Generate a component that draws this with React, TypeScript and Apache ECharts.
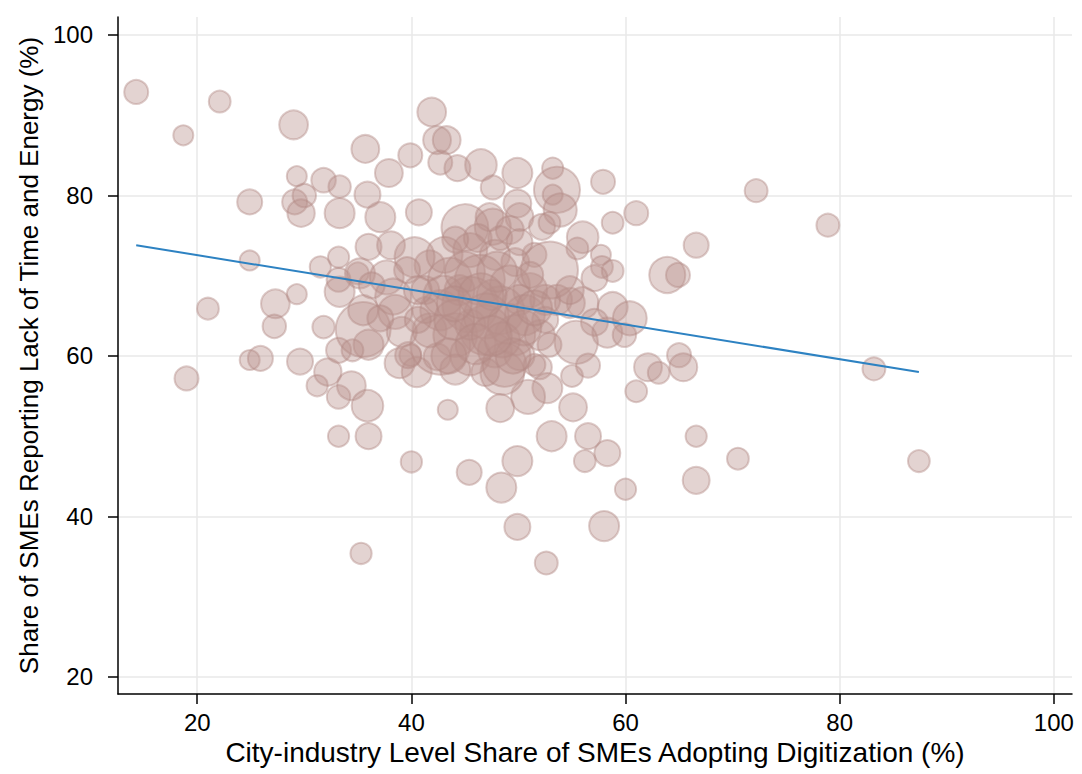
import React, { useEffect, useRef } from "react";
import * as echarts from "echarts";

// [digitization %, lack of time & energy %, number of SMEs (bubble weight)]
const leftPoints: number[][] = [
  [14.3, 92.9, 23], [18.7, 87.5, 16], [22.1, 91.7, 19], [29.0, 88.8, 33],
  [19.0, 57.2, 23], [21.0, 65.9, 19], [24.9, 79.2, 25], [24.9, 71.9, 16],
  [24.9, 59.5, 16], [25.9, 59.7, 25], [27.3, 66.5, 33], [27.2, 63.7, 22],
  [29.3, 82.4, 16], [29.1, 79.2, 25], [30.0, 80.0, 22], [29.7, 77.8, 30],
  [29.3, 67.7, 16], [29.6, 59.3, 27], [31.8, 81.9, 24], [33.3, 81.1, 20],
  [33.3, 77.8, 36], [31.5, 71.1, 18], [33.2, 72.3, 18], [33.2, 69.5, 23],
  [33.3, 68.0, 36], [31.8, 63.6, 20], [32.2, 58.0, 30], [31.2, 56.3, 18],
  [33.2, 54.9, 22], [33.2, 50.0, 18], [33.2, 60.7, 25], [35.0, 70.3, 19],
  [34.4, 56.3, 33], [35.9, 53.8, 40], [36.0, 50.0, 27], [40.0, 46.8, 18],
  [35.3, 35.4, 18], [35.5, 63.3, 121], [38.9, 59.1, 36], [40.5, 58.0, 36],
  [39.9, 60.1, 19], [43.4, 53.3, 16], [42.4, 59.9, 29],
];

const upperPoints: number[][] = [
  [41.9, 90.4, 33], [42.4, 86.9, 31], [43.3, 86.9, 31], [42.7, 84.1, 23],
  [44.3, 83.4, 27], [46.5, 83.8, 40], [47.6, 81.0, 23], [39.9, 85.0, 23],
  [35.7, 85.8, 31], [37.9, 82.8, 31], [35.9, 80.1, 27], [37.1, 77.3, 36],
  [40.7, 77.9, 27], [45.0, 76.0, 88], [47.3, 77.3, 31], [36.0, 73.6, 27],
  [38.1, 73.8, 31], [49.9, 82.8, 36], [53.2, 83.4, 18], [53.6, 80.7, 85],
  [53.2, 80.1, 16], [53.9, 78.2, 44], [49.9, 79.0, 31], [50.1, 77.3, 31],
  [47.6, 76.1, 52], [49.2, 75.7, 31], [52.2, 76.1, 27], [52.9, 76.6, 19],
  [57.9, 81.7, 23], [58.8, 76.6, 19], [61.0, 77.8, 23], [56.0, 74.8, 40],
  [55.5, 73.4, 19], [57.7, 72.6, 16], [72.2, 80.6, 21], [78.9, 76.3, 21],
  [66.6, 73.8, 25], [63.9, 70.1, 52], [64.9, 70.1, 23],
];

const rightPoints: number[][] = [
  [57.8, 71.1, 19], [58.8, 70.6, 19], [57.1, 69.7, 27], [56.0, 66.6, 40],
  [58.8, 66.1, 36], [60.4, 64.7, 46], [57.1, 64.2, 29], [58.3, 62.9, 36],
  [59.9, 62.6, 22], [55.4, 61.7, 75], [53.6, 67.0, 36], [54.8, 66.6, 36],
  [52.0, 58.6, 23], [55.0, 57.5, 19], [56.5, 58.8, 23], [52.7, 56.0, 36],
  [50.9, 54.9, 46], [48.5, 57.9, 77], [48.3, 53.5, 31], [55.1, 53.6, 31],
  [62.1, 58.6, 31], [63.1, 57.9, 19], [65.0, 60.1, 23], [65.4, 58.6, 31],
  [61.0, 55.6, 19], [83.2, 58.4, 21], [66.6, 50.0, 18], [70.5, 47.2, 19],
  [87.4, 46.9, 19], [66.6, 44.5, 29], [60.0, 43.4, 18], [58.3, 47.9, 27],
  [56.2, 46.9, 19], [56.5, 50.0, 27], [53.1, 50.0, 36], [49.9, 46.9, 36],
  [48.4, 43.6, 36], [49.9, 38.7, 27], [58.0, 38.8, 36], [52.6, 34.2, 21],
  [45.4, 45.5, 25],
];

const blobPoints: number[][] = [
  [41.7, 71.3, 36], [43.1, 72.6, 52], [45.5, 73.2, 46], [47.8, 72.6, 36],
  [49.7, 71.7, 31], [51.5, 72.6, 23], [41.3, 68.2, 31], [43.6, 69.5, 77],
  [46.4, 69.5, 100], [49.2, 68.8, 64], [51.1, 68.2, 46], [42.7, 65.7, 64],
  [45.5, 66.4, 125], [48.3, 65.7, 92], [50.6, 65.1, 64], [52.5, 67.0, 36],
  [41.7, 63.2, 46], [44.1, 62.6, 77], [46.9, 63.2, 100], [49.7, 62.6, 64],
  [52.0, 62.6, 36], [42.7, 61.4, 144], [45.5, 60.1, 64], [47.8, 60.7, 46],
  [50.1, 60.1, 36], [44.1, 58.3, 36], [46.9, 58.0, 31], [48.7, 58.9, 77],
  [41.3, 65.7, 27], [52.5, 64.5, 27], [52.9, 61.4, 23], [51.5, 58.9, 19],
  [45.5, 63.9, 36], [47.5, 67.6, 36], [44.5, 68.2, 36], [50.1, 67.0, 36],
  [52.9, 70.7, 130], [54.8, 68.2, 31], [51.1, 70.1, 27], [46.2, 74.7, 31],
  [48.3, 74.7, 23], [50.1, 74.2, 27], [44.1, 74.5, 27],
];

const blobCorePoints: number[][] = [
  [43.0, 67.5, 64], [47.0, 65.0, 81], [49.0, 64.0, 64], [44.0, 64.5, 64],
  [46.0, 61.5, 64], [48.5, 62.0, 49], [50.5, 63.5, 49], [45.0, 70.5, 64],
  [48.0, 70.5, 64], [43.5, 60.0, 49], [49.5, 60.0, 49], [51.5, 66.0, 49],
  [46.5, 67.5, 81], [44.0, 66.5, 49], [47.5, 62.5, 64],
];

const leftCenterPoints: number[][] = [
  [40.3, 72.3, 64], [35.2, 70.3, 36], [37.7, 69.8, 46], [39.6, 70.7, 27],
  [38.3, 67.4, 52], [38.5, 65.5, 46], [39.1, 63.0, 36], [39.7, 60.1, 27],
  [35.5, 65.7, 36], [36.0, 61.4, 36], [34.5, 60.7, 19], [37.1, 64.7, 27],
  [36.3, 68.8, 27], [40.6, 68.2, 31], [40.6, 64.5, 27],
];

// linear fit endpoints
const fitX: number[] = [14.3, 87.4];
const fitY: number[] = [73.8, 58.0];

const xTicks: number[] = [20, 40, 60, 80, 100];
const yTicks: number[] = [20, 40, 60, 80, 100];

const xTitle = "City-industry Level Share of SMEs Adopting Digitization (%)";
const yTitle = "Share of SMEs Reporting Lack of Time and Energy (%)";

export default function App() {
  const ref = useRef<HTMLDivElement>(null);
  useEffect(() => {
    if (!ref.current) return;
    const chart = echarts.init(ref.current, undefined, { renderer: "svg" });
    const points = [
      ...leftPoints,
      ...upperPoints,
      ...rightPoints,
      ...blobPoints,
      ...blobCorePoints,
      ...leftCenterPoints,
    ];
    const font = "'Liberation Sans', Arial, Helvetica, sans-serif";
    chart.setOption({
      animation: false,
      backgroundColor: "#ffffff",
      textStyle: { fontFamily: font },
      grid: {
        left: 118,
        right: 10,
        top: 17,
        bottom: 80,
        outerBoundsMode: "none",
        containLabel: false,
      },
      xAxis: {
        type: "value",
        min: 12.6,
        max: 101.7,
        name: xTitle,
        nameLocation: "middle",
        nameGap: 44,
        nameTextStyle: { fontSize: 28, color: "#000", fontFamily: font },
        axisLine: { show: true, onZero: false, lineStyle: { color: "#000", width: 1.5 } },
        axisTick: {
          show: true,
          length: 10,
          customValues: xTicks,
          lineStyle: { color: "#000", width: 1.5 },
        },
        axisLabel: {
          customValues: xTicks,
          fontSize: 24,
          color: "#000",
          margin: 16,
          fontFamily: font,
        },
        splitLine: { show: true, lineStyle: { color: "#e8e8e8", width: 1.5 } },
      },
      yAxis: {
        type: "value",
        min: 17.88,
        max: 102.24,
        name: yTitle,
        nameLocation: "middle",
        nameGap: 76,
        nameTextStyle: { fontSize: 26, color: "#000", fontFamily: font },
        axisLine: { show: true, onZero: false, lineStyle: { color: "#000", width: 1.5 } },
        axisTick: {
          show: true,
          length: 10,
          customValues: yTicks,
          lineStyle: { color: "#000", width: 1.5 },
        },
        axisLabel: {
          customValues: yTicks,
          fontSize: 24,
          color: "#000",
          margin: 25,
          fontFamily: font,
        },
        splitLine: { show: true, lineStyle: { color: "#e8e8e8", width: 1.5 } },
      },
      series: [
        {
          type: "scatter",
          data: points,
          symbol: "circle",
          symbolSize: (v: number[]) => 5 * Math.sqrt(v[2]),
          itemStyle: {
            color: "rgba(184, 146, 141, 0.5)",
            borderColor: "rgba(178, 136, 131, 0.55)",
            borderWidth: 2,
          },
          z: 2,
        },
        {
          type: "line",
          data: fitX.map((x, i) => [x, fitY[i]]),
          symbol: "none",
          lineStyle: { color: "#2d82c2", width: 2 },
          z: 3,
        },
      ],
    });
    return () => chart.dispose();
  }, []);
  return (
    <div
      ref={ref}
      style={{ position: "absolute", left: 0, top: 0, width: 1082, height: 774 }}
    />
  );
}
